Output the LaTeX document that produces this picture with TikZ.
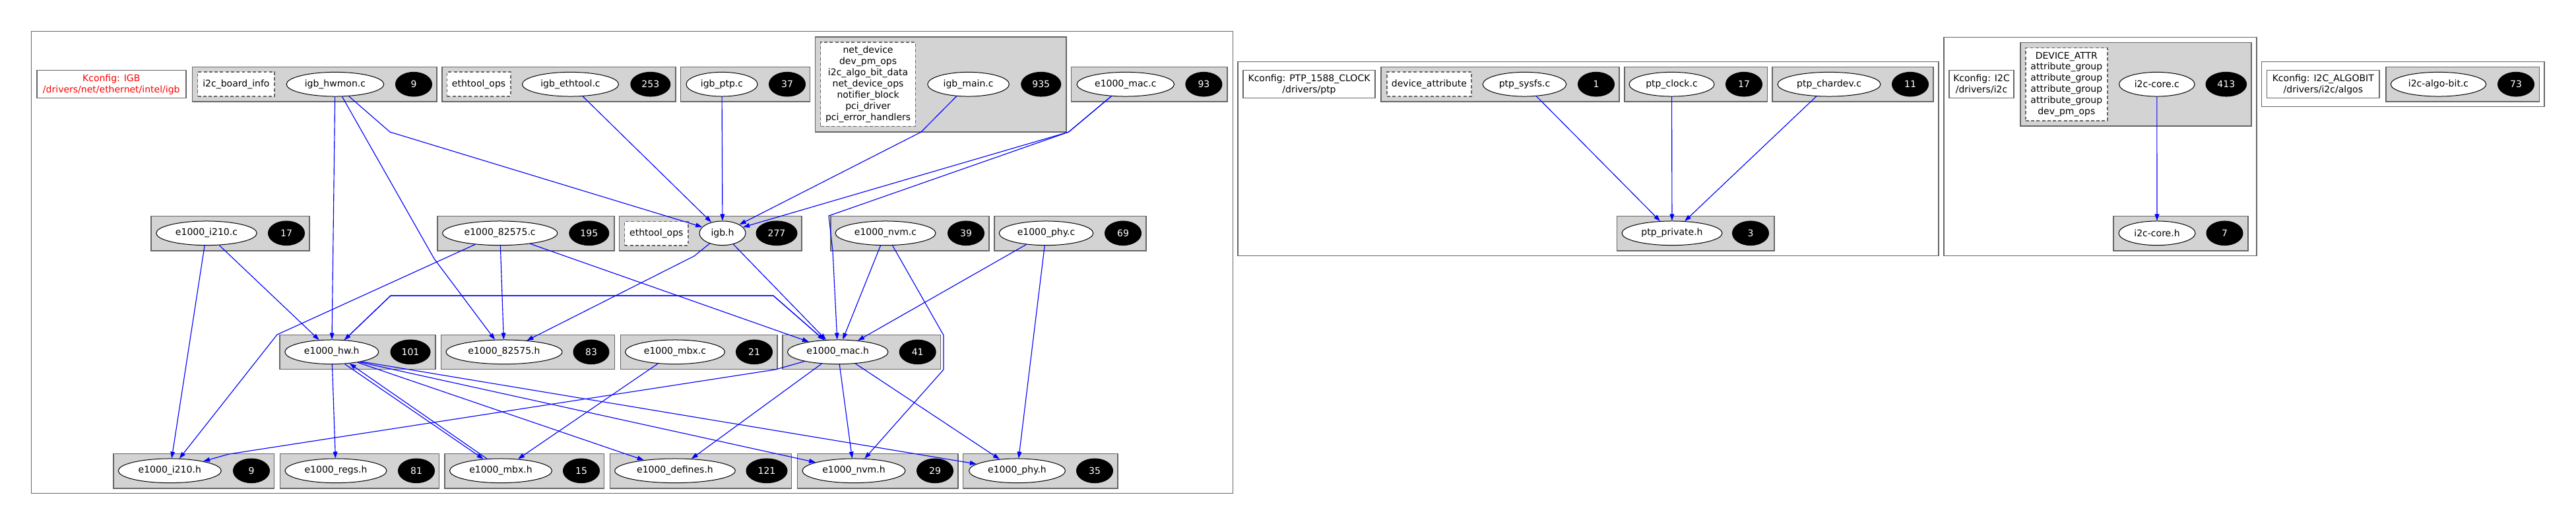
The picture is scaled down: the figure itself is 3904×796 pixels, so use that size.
\documentclass[tikz,border=0pt]{standalone}
\usepackage{fontspec}
\setmainfont{DejaVu Sans}
\usetikzlibrary{shapes.geometric,arrows.meta}
\definecolor{gfill}{HTML}{D3D3D3}
\definecolor{gline}{HTML}{666666}
\definecolor{eblue}{HTML}{0000FF}
\newcommand\nf{\fontsize{7.97pt}{9.64pt}\selectfont}
\begin{document}
\begin{tikzpicture}[x=0.2mm,y=-0.2mm,
 cl/.style={draw=gline,line width=0.85pt},
 grp/.style={draw=gline,fill=gfill,line width=0.85pt},
 file/.style={ellipse,draw=black,fill=white,line width=0.57pt,inner sep=0pt,minimum height=7.33mm,font=\nf},
 cnt/.style={ellipse,draw=black,fill=black,text=white,line width=0.57pt,inner sep=0pt,minimum height=7.33mm,minimum width=11mm,font=\nf},
 sym/.style={draw=gline,dash pattern=on 2.8pt off 1.9pt,fill=white,line width=0.8pt,inner sep=0pt,align=center,font=\nf},
 kc/.style={draw=gline,fill=white,line width=0.85pt,inner sep=0pt,align=center,font=\nf,minimum height=8.4mm},
 edge/.style={draw=eblue,line width=0.65pt,-{Triangle[length=2mm,width=1.35mm]}}]
\useasboundingbox (0,0) rectangle (3904,796);
\fill[white] (0,0) rectangle (3904,796);
% clusters
\draw[cl] (47.7,47.7) rectangle (1868.3,747.7);
\draw[cl] (1876,93.3) rectangle (2938,387.7);
\draw[cl] (2945.8,56.7) rectangle (3419.8,387.7);
\draw[cl] (3427.7,93.3) rectangle (3856,161.7);
% groups igb
\draw[grp] (291.4,101.3) rectangle (662,154);
\draw[grp] (669.8,101.3) rectangle (1024,154);
\draw[grp] (1031.4,101.3) rectangle (1227.7,154);
\draw[grp] (1235.7,56) rectangle (1616,200);
\draw[grp] (1623.7,101.3) rectangle (1859.8,154);
\draw[grp] (229,327.7) rectangle (469,380);
\draw[grp] (663,327.7) rectangle (931,380);
\draw[grp] (938.5,327.7) rectangle (1215,380);
\draw[grp] (1258.9,327.7) rectangle (1498.8,380);
\draw[grp] (1506.9,327.7) rectangle (1737,380);
\draw[grp] (424,507.7) rectangle (660,559.7);
\draw[grp] (668.5,507.7) rectangle (931.5,559.7);
\draw[grp] (940.3,507.7) rectangle (1178,559.7);
\draw[grp] (1186,507.7) rectangle (1425.5,559.7);
\draw[grp] (171.8,687.7) rectangle (415.7,740);
\draw[grp] (424.3,687.7) rectangle (665.4,740);
\draw[grp] (674,687.7) rectangle (915.7,740);
\draw[grp] (924.3,687.7) rectangle (1199.7,740);
\draw[grp] (1208.3,687.7) rectangle (1452.2,740);
\draw[grp] (1459.7,687.7) rectangle (1694,740);
% groups ptp
\draw[grp] (2093,101.3) rectangle (2454,154);
\draw[grp] (2462,101.3) rectangle (2678.5,154);
\draw[grp] (2686,101.3) rectangle (2930,154);
\draw[grp] (2450.4,327.7) rectangle (2689,380);
% groups i2c
\draw[grp] (3062,64.7) rectangle (3412,191);
\draw[grp] (3203,327.7) rectangle (3407,380);
\draw[grp] (3616,101.7) rectangle (3848.3,154);
% nodes igb row 1
\node[kc,minimum width=45.2mm,text=red] (kigb) at (168.8,127.7) {Kconfig: IGB\\/drivers/net/ethernet/intel/igb};
\node[sym,minimum width=23.3mm,minimum height=7.4mm] (s1) at (357.9,127.5) {i2c\_board\_info};
\node[file,minimum width=29.5mm] (hwmon) at (507.9,127.7) {igb\_hwmon.c};
\node[cnt] (n1) at (627,127.7) {9};
\node[sym,minimum width=19.3mm,minimum height=7.4mm] (s2) at (725.6,127.5) {ethtool\_ops};
\node[file,minimum width=29.2mm] (ethtool) at (864.5,127.7) {igb\_ethtool.c};
\node[cnt,minimum width=12mm] (n2) at (985.8,127.7) {253};
\node[file,minimum width=21.6mm] (ptp) at (1094,127.7) {igb\_ptp.c};
\node[cnt] (n3) at (1193,127.7) {37};
\node[sym,minimum width=28.75mm,minimum height=25.5mm] (s3) at (1315.6,127.7) {net\_device\\dev\_pm\_ops\\i2c\_algo\_bit\_data\\net\_device\_ops\\notifier\_block\\pci\_driver\\pci\_error\_handlers};
\node[file,minimum width=24.7mm] (main) at (1467.6,127.7) {igb\_main.c};
\node[cnt,minimum width=12mm] (n4) at (1577.7,127.7) {935};
\node[file,minimum width=29.5mm] (macc) at (1705.8,127.7) {e1000\_mac.c};
\node[cnt] (n5) at (1824.4,127.7) {93};
% row 2
\node[file,minimum width=30.5mm] (i210c) at (313,353.3) {e1000\_i210.c};
\node[cnt] (n6) at (434,353.3) {17};
\node[file,minimum width=34.8mm] (c82575) at (757.7,353.3) {e1000\_82575.c};
\node[cnt,minimum width=12mm] (n7) at (892.8,353.3) {195};
\node[sym,minimum width=19.3mm,minimum height=7.3mm] (s4) at (994.8,353.8) {ethtool\_ops};
\node[file,minimum width=14mm] (igbh) at (1095,353.3) {igb.h};
\node[cnt,minimum width=12.4mm] (n8) at (1177,353.3) {277};
\node[file,minimum width=30.4mm] (nvmc) at (1342,353.3) {e1000\_nvm.c};
\node[cnt] (n9) at (1464,353.3) {39};
\node[file,minimum width=28.5mm] (phyc) at (1585.5,353.3) {e1000\_phy.c};
\node[cnt] (n10) at (1702,353.3) {69};
% row 3
\node[file,minimum width=28.4mm] (hwh) at (502.8,533.3) {e1000\_hw.h};
\node[cnt,minimum width=12mm] (n11) at (622,533.3) {101};
\node[file,minimum width=35.2mm] (h82575) at (764,533.3) {e1000\_82575.h};
\node[cnt,minimum width=10.8mm] (n12) at (896,533.3) {83};
\node[file,minimum width=30.2mm] (mbxc) at (1023,533.3) {e1000\_mbx.c};
\node[cnt] (n13) at (1143,533.3) {21};
\node[file,minimum width=30.5mm] (mach) at (1269.7,533.3) {e1000\_mac.h};
\node[cnt] (n14) at (1390.7,533.3) {41};
% row 4
\node[file,minimum width=31.2mm] (i210h) at (257.3,713.3) {e1000\_i210.h};
\node[cnt] (n15) at (381,713.3) {9};
\node[file,minimum width=30.8mm] (regsh) at (509,713.3) {e1000\_regs.h};
\node[cnt] (n16) at (631,713.3) {81};
\node[file,minimum width=31mm] (mbxh) at (759,713.3) {e1000\_mbx.h};
\node[cnt] (n17) at (881,713.3) {15};
\node[file,minimum width=36.5mm] (definesh) at (1023,713.3) {e1000\_defines.h};
\node[cnt,minimum width=12.4mm] (n18) at (1162,713.3) {121};
\node[file,minimum width=31.2mm] (nvmh) at (1294,713.3) {e1000\_nvm.h};
\node[cnt] (n19) at (1417,713.3) {29};
\node[file,minimum width=29.2mm] (phyh) at (1541.5,713.3) {e1000\_phy.h};
\node[cnt] (n20) at (1659,713.3) {35};
% ptp
\node[kc,minimum width=40mm] (kptp) at (1984,127.7) {Kconfig: PTP\_1588\_CLOCK\\/drivers/ptp};
\node[sym,minimum width=25.6mm,minimum height=7.4mm] (s5) at (2166,127.5) {device\_attribute};
\node[file,minimum width=25.3mm] (sysfs) at (2310.5,127.7) {ptp\_sysfs.c};
\node[cnt] (n21) at (2419,127.7) {1};
\node[file,minimum width=25.8mm] (clock) at (2533.5,127.7) {ptp\_clock.c};
\node[cnt] (n22) at (2643,127.7) {17};
\node[file,minimum width=31.2mm] (chardev) at (2772,127.7) {ptp\_chardev.c};
\node[cnt] (n23) at (2895,127.7) {11};
\node[file,minimum width=30.4mm] (private) at (2534,353.3) {ptp\_private.h};
\node[cnt] (n24) at (2653,353.3) {3};
% i2c
\node[kc,minimum width=19.6mm] (ki2c) at (3003,127.7) {Kconfig: I2C\\/drivers/i2c};
\node[sym,minimum width=24.8mm,minimum height=22.1mm] (s6) at (3131.8,127.8) {DEVICE\_ATTR\\attribute\_group\\attribute\_group\\attribute\_group\\attribute\_group\\dev\_pm\_ops};
\node[file,minimum width=22.9mm] (corec) at (3268.8,127.7) {i2c-core.c};
\node[cnt,minimum width=12.3mm] (n25) at (3373.8,127.7) {413};
\node[file,minimum width=23.2mm] (coreh) at (3269,353.3) {i2c-core.h};
\node[cnt] (n26) at (3371.5,353.3) {7};
% algobit
\node[kc,minimum width=34.1mm] (kalgo) at (3520.8,127.7) {Kconfig: I2C\_ALGOBIT\\/drivers/i2c/algos};
\node[file,minimum width=28.9mm] (algo) at (3695.5,127.7) {i2c-algo-bit.c};
\node[cnt] (n27) at (3813,127.7) {73};
% bend points
\coordinate (b1) at (591,200);
\coordinate (b2) at (658,392);
\coordinate (b3) at (1396,200);
\coordinate (b4) at (1619.6,200);
\coordinate (b5) at (1256,327);
\coordinate (b6) at (1262,380);
\coordinate (b7) at (420,507);
\coordinate (b8) at (1052,388);
\coordinate (b9) at (1430,508);
\coordinate (b10) at (1430,560);
\coordinate (b11) at (592,448);
\coordinate (b12) at (1172,448);
\coordinate (b13) at (1175,560);
\coordinate (b14) at (347,688);
% edges
\draw[edge] (hwmon) -- (hwh);
\draw[edge] (hwmon) -- (b2) -- (h82575);
\draw[edge] (hwmon) -- (b1) -- (igbh);
\draw[edge] (ethtool) -- (igbh);
\draw[edge] (ptp) -- (igbh);
\draw[edge] (main) -- (b3) -- (igbh);
\draw[edge] (macc) -- (b4) -- (igbh);
\draw[edge] (macc) -- (b4) -- (b5) -- (b6) -- (mach);
\draw[edge] (i210c) -- (i210h);
\draw[edge] (i210c) -- (hwh);
\draw[edge] (c82575) -- (b7) -- (i210h);
\draw[edge] (c82575) -- (h82575);
\draw[edge] (c82575) -- (mach);
\draw[edge] (igbh) -- (b8) -- (h82575);
\draw[edge] (igbh) -- (mach);
\draw[edge] (nvmc) -- (mach);
\draw[edge] (nvmc) -- (b9) -- (b10) -- (nvmh);
\draw[edge] (phyc) -- (mach);
\draw[edge] (phyc) -- (phyh);
\draw[edge] (mach) -- (b12) -- (b11) -- (hwh);
\draw[edge] (hwh) -- (b11) -- (b12) -- (mach);
\draw[edge] (hwh) -- (regsh);
\draw[edge] (hwh.-43) -- (mbxh.146);
\draw[edge] (mbxh.139) -- (hwh.-33);
\draw[edge] (mbxc) -- (mbxh);
\draw[edge] (hwh.-22) -- (definesh);
\draw[edge] (hwh.-20) -- (nvmh);
\draw[edge] (hwh.-18) -- (phyh);
\draw[edge] (mach) -- (b13) -- (b14) -- (i210h);
\draw[edge] (mach) -- (definesh);
\draw[edge] (mach) -- (nvmh);
\draw[edge] (mach) -- (phyh);
\draw[edge] (sysfs) -- (private);
\draw[edge] (clock) -- (private);
\draw[edge] (chardev) -- (private);
\draw[edge] (corec) -- (coreh);
\end{tikzpicture}
\end{document}
